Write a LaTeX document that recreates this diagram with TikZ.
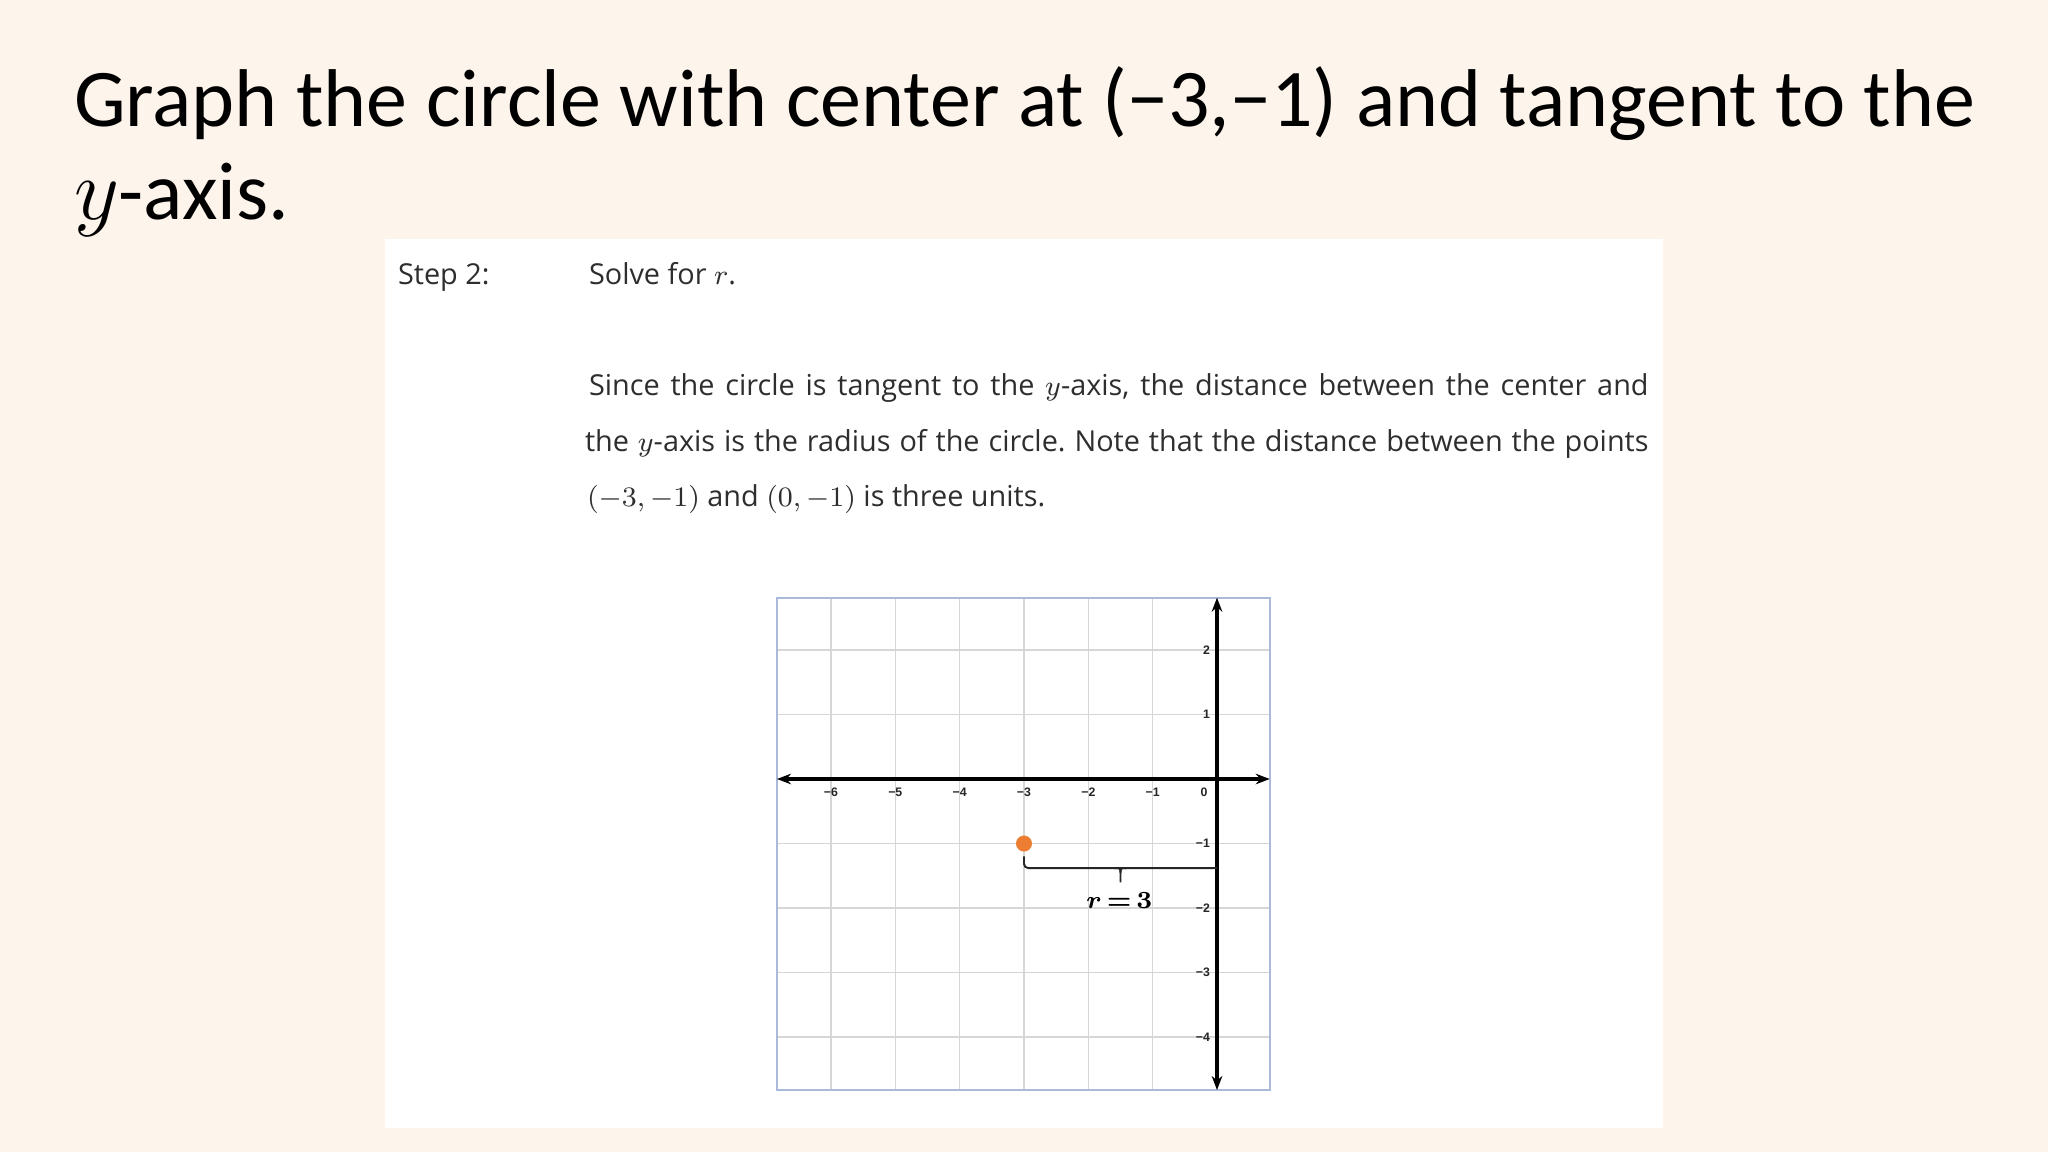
\documentclass[tikz,border=0pt]{standalone}
\usepackage{amsmath}
\usepackage[no-math]{fontspec}
\setmainfont{Carlito}
\newfontfamily\ticksfont{Liberation Sans}
\newfontfamily\panelfont{Open Sans}
\usetikzlibrary{arrows.meta}
\frenchspacing
\definecolor{bgpeach}{HTML}{FDF4EC}
\definecolor{paneltext}{HTML}{2E2E2E}
\definecolor{gridgray}{HTML}{D6D6D6}
\definecolor{frameblue}{HTML}{A9BBD8}
\definecolor{dotorange}{HTML}{ED7D31}
\tikzset{
  txt/.style={anchor=base west, inner sep=0pt, outer sep=0pt},
  bodytxt/.style={txt, text=paneltext, font=\panelfont\fontsize{8.2}{10}\selectfont},
  ticklbl/.style={inner sep=0pt, font=\ticksfont\bfseries\fontsize{3.5}{4}\selectfont, text=black!85},
  axisline/.style={line width=0.9pt, {Stealth[length=4pt,width=3pt]}-{Stealth[length=4pt,width=3pt]}},
  bracketline/.style={line width=0.55pt, draw=black!85}
}
\begin{document}
\begin{tikzpicture}[x=0.01cm,y=-0.01cm]
\useasboundingbox (0,0) rectangle (2048,1152);
\fill[bgpeach] (0,0) rectangle (2048,1152);
\fill[white] (385,239) rectangle (1663,1128);
% title
\node[txt, font=\fontsize{23.3}{28}\selectfont] (title1) at (74,127) {Graph the circle with center at (−3,−1) and tangent to the};
\node[txt, font=\fontsize{23.3}{28}\selectfont] (title2) at (74,220) {$y$-axis.};
% panel text
\node[bodytxt] (step) at (398,285) {Step 2:};
\node[bodytxt] (solve) at (589,285) {Solve for $r$.};
\node[bodytxt] (line1) at (589,396) {\makebox[10.59cm][s]{Since the circle is tangent to the $y$-axis, the distance between the center and}};
\node[bodytxt] (line2) at (585,452) {\makebox[10.63cm][s]{the $y$-axis is the radius of the circle. Note that the distance between the points}};
\node[bodytxt] (line3) at (587,507) {$(-3,-1)$ and $(0,-1)$ is three units.};
% graph
\begin{scope}[shift={(1217,779)}, x=0.643cm, y=0.645cm]
  \foreach \i in {-6,...,-1} \draw[gridgray, line width=0.45pt] (\i,-4.82) -- (\i,2.81);
  \foreach \j in {-4,...,-1,1,2} \draw[gridgray, line width=0.45pt] (-6.84,\j) -- (0.82,\j);
  \draw[frameblue, line width=0.6pt] (-6.84,-4.82) rectangle (0.82,2.81);
  \coordinate (xl) at (-6.84,0);
  \coordinate (xr) at (0.82,0);
  \coordinate (yt) at (0,2.81);
  \coordinate (yb) at (0,-4.82);
  \draw[axisline] (xl) -- (xr);
  \draw[axisline] (yb) -- (yt);
  \foreach \i/\l in {-6/−6,-5/−5,-4/−4,-3/−3,-2/−2,-1/−1}
    \node[ticklbl] (xt\i) at (\i,-0.2) {\l};
  \node[ticklbl] (x0) at (-0.2,-0.2) {0};
  \foreach \j/\l in {2/2,1/1,-1/−1,-2/−2,-3/−3,-4/−4}
    \node[ticklbl, anchor=east] (yt\j) at (-0.1,\j) {\l};
  % center point
  \node[circle, fill=dotorange, inner sep=0pt, minimum size=0.16cm] (ctr) at (-3,-1) {};
  % radius bracket
  \coordinate (bstart) at (-3,-1.2);
  \coordinate (bend) at (0,-1.38);
  \draw[bracketline, rounded corners=1.2pt] (bstart) -- (-3,-1.38) -- (bend);
  \coordinate (tip) at (-1.5,-1.6);
  \draw[bracketline] (-1.6,-1.38) .. controls (-1.5,-1.38) .. (-1.5,-1.46) -- (tip);
  \draw[bracketline] (-1.4,-1.38) .. controls (-1.5,-1.38) .. (-1.5,-1.46);
  \node[inner sep=0pt, font=\fontsize{7.2}{8}\selectfont] (rlbl) at (-1.52,-1.88) {$\boldsymbol{r}\mkern3mu{\boldsymbol{=}}\mkern3mu\mathbf{3}$};
\end{scope}
\end{tikzpicture}
\end{document}
